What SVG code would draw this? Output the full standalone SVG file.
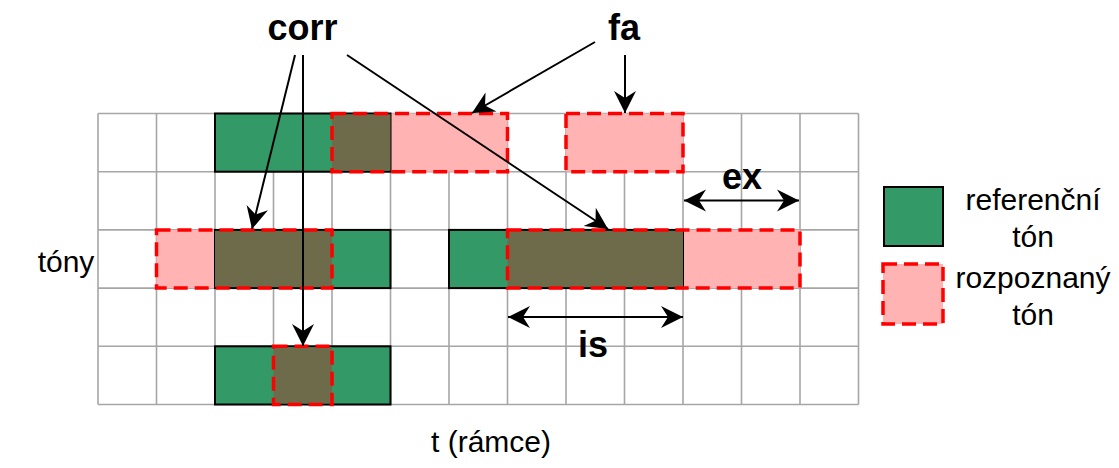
<svg xmlns="http://www.w3.org/2000/svg" width="1119" height="468" viewBox="0 0 1119 468">
<style>
.grid line{stroke:#a6a6a6;stroke-width:1.6}
.ref{fill:#339966;stroke:#000;stroke-width:2}
.rec{fill:#ffb3b3}
.ov{fill:#6e6b4a}
.dash{fill:none;stroke:#ff0000;stroke-width:3.5;stroke-dasharray:14 7}
.lbl{font-family:"Liberation Sans",Arial,sans-serif;font-weight:bold;font-size:36px;fill:#000;text-anchor:middle}
.txt{font-family:"Liberation Sans",Arial,sans-serif;font-size:30px;fill:#000;text-anchor:middle}
.conn line{stroke:#000;stroke-width:2}
</style>
<defs>
<marker id="ah" markerUnits="userSpaceOnUse" markerWidth="24" markerHeight="24" viewBox="-22 -12 24 24" refX="0" refY="0" orient="auto-start-reverse">
<path d="M0,0 L-22,-11 L-15,0 L-22,11 Z" fill="#000"/>
</marker>
</defs>
<rect width="1119" height="468" fill="#fff"/>
<g class="grid">
<line x1="98" y1="113.5" x2="858.5" y2="113.5"/>
<line x1="98" y1="171.7" x2="858.5" y2="171.7"/>
<line x1="98" y1="229.9" x2="858.5" y2="229.9"/>
<line x1="98" y1="288.1" x2="858.5" y2="288.1"/>
<line x1="98" y1="346.3" x2="858.5" y2="346.3"/>
<line x1="98" y1="404.5" x2="858.5" y2="404.5"/>
<line x1="98" y1="113.5" x2="98" y2="404.5"/>
<line x1="156.5" y1="113.5" x2="156.5" y2="404.5"/>
<line x1="215" y1="113.5" x2="215" y2="404.5"/>
<line x1="273.5" y1="113.5" x2="273.5" y2="404.5"/>
<line x1="332" y1="113.5" x2="332" y2="404.5"/>
<line x1="390.5" y1="113.5" x2="390.5" y2="404.5"/>
<line x1="449" y1="113.5" x2="449" y2="404.5"/>
<line x1="507.5" y1="113.5" x2="507.5" y2="404.5"/>
<line x1="566" y1="113.5" x2="566" y2="404.5"/>
<line x1="624.5" y1="113.5" x2="624.5" y2="404.5"/>
<line x1="683" y1="113.5" x2="683" y2="404.5"/>
<line x1="741.5" y1="113.5" x2="741.5" y2="404.5"/>
<line x1="800" y1="113.5" x2="800" y2="404.5"/>
<line x1="858.5" y1="113.5" x2="858.5" y2="404.5"/>
</g>
<g id="rec-fills">
<rect class="rec" x="332" y="113.5" width="175.5" height="58.2"/>
<rect class="rec" x="566" y="113.5" width="117" height="58.2"/>
<rect class="rec" x="156.5" y="229.9" width="175.5" height="58.2"/>
<rect class="rec" x="507.5" y="229.9" width="292.5" height="58.2"/>
<rect class="rec" x="273.5" y="346.3" width="58.5" height="58.2"/>
</g>
<g id="ref-1"><rect class="ref" x="215" y="113.5" width="175.5" height="58.2"/></g>
<g id="ref-2"><rect class="ref" x="215" y="229.9" width="175.5" height="58.2"/></g>
<g id="ref-3"><rect class="ref" x="449" y="229.9" width="234" height="58.2"/></g>
<g id="ref-4"><rect class="ref" x="215" y="346.3" width="175.5" height="58.2"/></g>
<g id="overlaps">
<rect class="ov" x="332" y="114.5" width="58.5" height="56.2"/>
<rect class="ov" x="215" y="230.9" width="117" height="56.2"/>
<rect class="ov" x="507.5" y="230.9" width="175.5" height="56.2"/>
<rect class="ov" x="273.5" y="347.3" width="58.5" height="56.2"/>
</g>
<g id="rec-1"><rect class="dash" x="332" y="113.5" width="175.5" height="58.2"/></g>
<g id="rec-2"><rect class="dash" x="566" y="113.5" width="117" height="58.2"/></g>
<g id="rec-3"><rect class="dash" x="156.5" y="229.9" width="175.5" height="58.2"/></g>
<g id="rec-4"><rect class="dash" x="507.5" y="229.9" width="292.5" height="58.2"/></g>
<g id="rec-5"><rect class="dash" x="273.5" y="346.3" width="58.5" height="58.2"/></g>
<g id="label-corr"><text class="lbl" x="302.5" y="40">corr</text></g>
<g id="label-fa"><text class="lbl" x="624" y="40">fa</text></g>
<g id="label-ex"><text class="lbl" x="742" y="189">ex</text></g>
<g id="label-is"><text class="lbl" x="593" y="357">is</text></g>
<g class="conn" id="connectors">
<line x1="295" y1="55" x2="252" y2="229" marker-end="url(#ah)"/>
<line x1="303" y1="55" x2="303" y2="346" marker-end="url(#ah)"/>
<line x1="347" y1="55" x2="608" y2="229" marker-end="url(#ah)"/>
<line x1="595" y1="42" x2="472" y2="113" marker-end="url(#ah)"/>
<line x1="625" y1="55" x2="625" y2="113" marker-end="url(#ah)"/>
<line x1="684" y1="200.5" x2="799" y2="200.5" marker-start="url(#ah)" marker-end="url(#ah)"/>
<line x1="508" y1="317" x2="683" y2="317" marker-start="url(#ah)" marker-end="url(#ah)"/>
</g>
<g id="axis-y"><text class="txt" x="66" y="272">tóny</text></g>
<g id="axis-x"><text class="txt" x="491" y="452">t (rámce)</text></g>
<g id="legend-ref">
<rect class="ref" x="884" y="187" width="59" height="59"/>
<text class="txt" x="1033" y="210">referenční</text>
<text class="txt" x="1033" y="247">tón</text>
</g>
<g id="legend-rec">
<rect class="rec" x="883" y="264" width="60" height="60"/>
<rect class="dash" x="883" y="264" width="60" height="60"/>
<text class="txt" x="1033" y="288">rozpoznaný</text>
<text class="txt" x="1033" y="325">tón</text>
</g>
</svg>
